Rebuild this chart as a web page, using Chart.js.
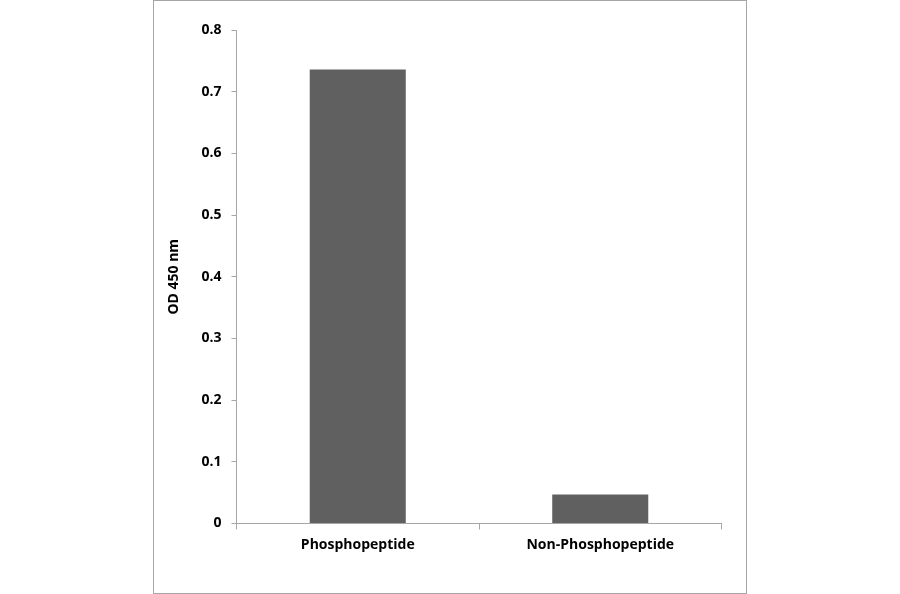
<!DOCTYPE html>
<html>
<head>
<meta charset="utf-8">
<script src="https://cdn.jsdelivr.net/npm/chart.js@4"></script>
<style>
html,body{margin:0;padding:0;background:#fff;}
#box{position:absolute;left:153px;top:0;width:592px;height:592px;border:1px solid #a6a6a6;}
#c{display:block;}
</style>
</head>
<body>
<div id="box"><canvas id="c" width="592" height="592"></canvas></div>
<script>
const categories = ["Phosphopeptide", "Non-Phosphopeptide"];
const odValues = [0.736, 0.047];
const yTitle = "OD 450 nm";
const yMin = 0, yMax = 0.8, yStep = 0.1;

const font = {family: "'Open Sans', sans-serif", size: 14, weight: "bold"};
const axisColor = "#a6a6a6";

new Chart(document.getElementById("c"), {
  type: "bar",
  data: {
    labels: categories,
    datasets: [{
      data: odValues,
      backgroundColor: "#606060",
      borderWidth: 0,
      barPercentage: 0.396,
      categoryPercentage: 1.0
    }]
  },
  options: {
    responsive: false,
    animation: false,
    devicePixelRatio: 1,
    layout: {padding: {top: 29, right: 24.5, left: 0, bottom: 0}},
    plugins: {legend: {display: false}, tooltip: {enabled: false}},
    scales: {
      x: {
        offset: true,
        grid: {offset: true, drawOnChartArea: false, drawTicks: true, tickLength: 6, color: axisColor},
        border: {color: axisColor, width: 1},
        ticks: {color: "#000", font: font, padding: 7, maxRotation: 0},
        afterFit: s => { s.height = 69.5; }
      },
      y: {
        min: yMin, max: yMax,
        grid: {drawOnChartArea: false, drawTicks: true, tickLength: 5, color: axisColor},
        border: {color: axisColor, width: 1},
        ticks: {stepSize: yStep, color: "#000", font: font, padding: 10,
          callback: v => (Math.abs(v) < 1e-9 ? "0" : (+v.toFixed(1)).toString())},
        title: {display: true, text: yTitle, color: "#000", font: font, padding: {top: 12, bottom: 4}},
        afterFit: s => { s.width = 82.5; }
      }
    }
  }
});
</script>
</body>
</html>
